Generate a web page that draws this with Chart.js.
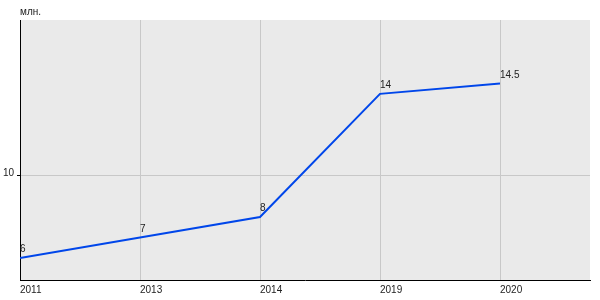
<!DOCTYPE html>
<html lang="ru">

<head>
    <meta charset="UTF-8">
    <title>млн.</title>
    <style>
        body { margin: 0; background: #fff; }
        .wrap { width: 600px; height: 300px; }
    </style>
</head>

<body>
    <div class="wrap">
        <canvas id="myChart" width="600" height="300"></canvas>
    </div>

    <script src="https://cdn.jsdelivr.net/npm/chart.js"></script>

    <script>
        // data
        const years = ['2011', '2013', '2014', '2019', '2020'];
        const values = [6, 7, 8, 14, 14.5];
        const valueLabels = ['6', '7', '8', '14', '14.5'];
        const yTicks = [10];
        const unitLabel = 'млн.';

        const font = { family: '"Liberation Sans", Arial, sans-serif', size: 10 };
        const fontStr = font.size + 'px ' + font.family;

        // grey plot background, unit label and y tick labels
        const backdrop = {
            id: 'backdrop',
            beforeDraw(chart) {
                const { ctx, chartArea: a } = chart;
                ctx.save();
                ctx.fillStyle = '#eaeaea';
                ctx.fillRect(a.left, a.top, a.right - a.left, a.bottom - a.top);
                ctx.fillStyle = '#222';
                ctx.font = fontStr;
                ctx.textAlign = 'left';
                ctx.textBaseline = 'middle';
                ctx.fillText(unitLabel, a.left, 12);
                ctx.restore();
            },
            afterDraw(chart) {
                const { ctx } = chart;
                const y = chart.scales.y;
                ctx.save();
                ctx.fillStyle = '#222';
                ctx.font = fontStr;
                ctx.textAlign = 'right';
                ctx.textBaseline = 'alphabetic';
                yTicks.forEach(v => ctx.fillText(String(v), 14, y.getPixelForValue(v)));
                ctx.restore();
            }
        };

        // value labels next to each point
        const pointLabels = {
            id: 'pointLabels',
            afterDatasetsDraw(chart) {
                const { ctx } = chart;
                const meta = chart.getDatasetMeta(0);
                ctx.save();
                ctx.fillStyle = '#222';
                ctx.font = fontStr;
                ctx.textAlign = 'left';
                ctx.textBaseline = 'alphabetic';
                meta.data.forEach((pt, i) => {
                    ctx.fillText(valueLabels[i], pt.x, pt.y - 6);
                });
                ctx.restore();
            }
        };

        new Chart(document.getElementById('myChart'), {
            type: 'line',
            data: {
                datasets: [{
                    data: values.map((v, i) => ({ x: i, y: v })),
                    borderColor: '#0046ea',
                    borderWidth: 2,
                    pointRadius: 0,
                    tension: 0,
                    fill: false
                }]
            },
            options: {
                responsive: false,
                animation: false,
                layout: { padding: { top: 20, right: 10, left: 0, bottom: 0 } },
                plugins: {
                    legend: { display: false },
                    tooltip: { enabled: false }
                },
                scales: {
                    x: {
                        type: 'linear',
                        min: 0,
                        max: 4.75,
                        afterBuildTicks: (axis) => { axis.ticks = years.map((y, i) => ({ value: i })); },
                        afterFit: (axis) => { axis.height = 20; },
                        ticks: {
                            callback: (v) => years[v],
                            align: 'start',
                            maxRotation: 0,
                            padding: 4,
                            color: '#222',
                            font: font
                        },
                        grid: { color: '#c8c8c8', drawTicks: false },
                        border: { color: '#000', width: 1 }
                    },
                    y: {
                        min: 4.93,
                        max: 17.6,
                        afterBuildTicks: (axis) => { axis.ticks = yTicks.map(v => ({ value: v })); },
                        afterFit: (axis) => { axis.width = 20; },
                        ticks: {
                            display: false
                        },
                        grid: { color: '#c8c8c8', tickLength: 3, tickColor: '#000' },
                        border: { color: '#000', width: 1 }
                    }
                }
            },
            plugins: [backdrop, pointLabels]
        });
    </script>
</body>

</html>
